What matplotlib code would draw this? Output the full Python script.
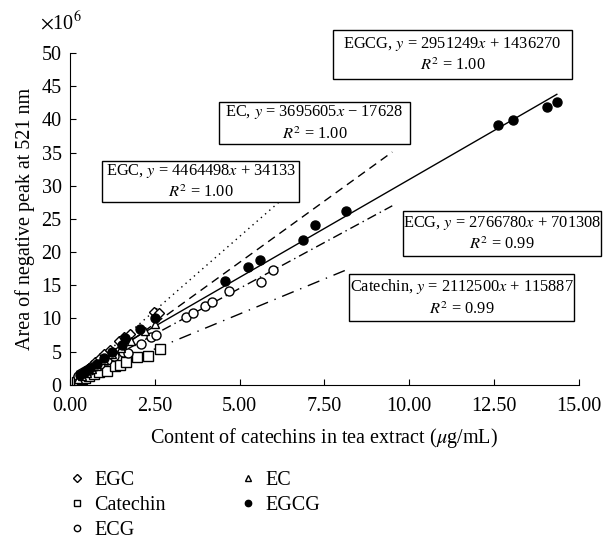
import numpy as np
import matplotlib
matplotlib.use("Agg")
import matplotlib.pyplot as plt
from matplotlib.patches import Rectangle

plt.rcParams['font.family'] = ['Liberation Serif', 'DejaVu Serif']
plt.rcParams['mathtext.fontset'] = 'stix'

# data (x in ug/mL, y in 10^6)
egc_x = [0.22, 0.3, 0.38, 0.45, 0.55, 0.65, 0.75, 0.88, 1.0, 1.18, 1.45, 1.6, 1.76, 2.47, 2.62]
egc_y = [1.0, 1.4, 1.8, 2.1, 2.5, 3.0, 3.4, 4.1, 4.6, 5.3, 6.6, 7.2, 7.6, 11.0, 10.8]
ec_x = [0.25, 0.35, 0.5, 0.65, 0.8, 1.0, 1.25, 1.5, 1.8, 2.2, 2.5]
ec_y = [0.9, 1.3, 1.8, 2.4, 2.9, 3.7, 4.6, 5.5, 6.6, 8.1, 9.1]
ecg_x = [0.25, 0.35, 0.45, 0.6, 0.75, 0.9, 1.1, 1.3, 1.55, 1.7, 2.1, 2.4, 2.53,
         3.41, 3.63, 3.97, 4.2, 4.7, 5.63, 5.98]
ecg_y = [1.3, 1.6, 1.9, 2.3, 2.8, 3.2, 3.8, 4.3, 5.0, 4.8, 6.2, 7.2, 7.5,
         10.2, 10.8, 11.9, 12.5, 14.2, 15.5, 17.3]
cat_x = [0.2, 0.28, 0.35, 0.45, 0.55, 0.7, 0.85, 1.08, 1.32, 1.47, 1.65, 1.98, 2.29, 2.65]
cat_y = [0.5, 0.7, 0.9, 1.1, 1.3, 1.6, 1.9, 2.1, 2.8, 3.0, 3.5, 4.2, 4.4, 5.4]
egcg_x = [0.3, 0.45, 0.6, 0.8, 1.0, 1.25, 1.52, 1.62, 2.06, 2.52, 4.58, 5.24, 5.59,
          6.86, 7.23, 8.15, 12.62, 13.06, 14.06, 14.35]
egcg_y = [1.5, 2.0, 2.6, 3.2, 4.0, 4.9, 6.0, 7.1, 8.4, 10.1, 15.7, 17.8, 18.8,
          21.8, 24.1, 26.2, 39.2, 39.9, 41.9, 42.6]

# fitted lines: slope, intercept, x range
fit_names = ['EGC', 'EC', 'EGCG', 'ECG', 'Catechin']
fit_slope = [4464498, 3695605, 2951249, 2766780, 2112500]
fit_icpt = [34133, -17628, 1436270, 701308, 115887]
fit_r2 = ['1.00', '1.00', '1.00', '0.99', '0.99']
fit_xend = [6.7, 9.5, 14.35, 9.5, 8.1]
fit_style = [(0, (1, 3)), (0, (6, 4)), '-', (0, (7, 3, 1, 3)), (0, (9, 5, 1, 5))]

W, H = 603, 542
fig = plt.figure(figsize=(6.03, 5.42), dpi=100)
ax = fig.add_axes([0.116, 0.290, 0.844, 0.612])

for s, b, xe, ls in zip(fit_slope, fit_icpt, fit_xend, fit_style):
    xx = np.array([0.2, xe])
    ax.plot(xx, (s * xx + b) / 1e6, color='black', lw=1.0, linestyle=ls)

ms = 6.5
h1, = ax.plot(egc_x, egc_y, 'D', ms=5.5, mfc='white', mec='black', mew=1.0, ls='none')
h2, = ax.plot(cat_x, cat_y, 's', ms=6.5, mfc='white', mec='black', mew=1.0, ls='none')
h3, = ax.plot(ecg_x, ecg_y, 'o', ms=ms, mfc='white', mec='black', mew=1.0, ls='none')
h4, = ax.plot(ec_x, ec_y, '^', ms=6, mfc='white', mec='black', mew=1.0, ls='none')
h5, = ax.plot(egcg_x, egcg_y, 'o', ms=ms, mfc='black', mec='black', ls='none')

ax.set_xlim(0, 15)
ax.set_ylim(0, 50)
ax.set_xticks(np.arange(0, 15.01, 2.5))
ax.set_xticklabels(['%.2f' % v for v in np.arange(0, 15.01, 2.5)])
ax.set_yticks(np.arange(0, 51, 5))
ax.spines['top'].set_visible(False)
ax.spines['right'].set_visible(False)
ax.tick_params(direction='in', labelsize=14.5, length=4)
ax.tick_params(axis='x', pad=9)
ax.tick_params(axis='y', pad=6)
ax.set_xlabel(r'Content of catechins in tea extract ($\mu$g/mL)', fontsize=14.5, labelpad=7)
ax.set_ylabel('Area of negative peak at 521 nm', fontsize=14.5, labelpad=5)
fig.text(0.066, 0.945, r'$\times$10$^6$', fontsize=14.5)

# equation boxes: left, right, top, bottom in figure pixels
box_ext = [(102, 299, 161, 202), (219, 410, 102, 144), (333, 572, 30, 79),
           (403, 601, 211, 256), (349, 574, 274, 321)]
for name, s, b, r2, (l, r, t, bt) in zip(fit_names, fit_slope, fit_icpt, fit_r2, box_ext):
    fig.add_artist(Rectangle((l / W, 1 - bt / H), (r - l) / W, (bt - t) / H,
                             transform=fig.transFigure, fc='white', ec='black', lw=1.0))
    sign = '+' if b >= 0 else '\u2212'
    txt = '%s, $y$ = %d$x$ %s %d\n$R^2$ = %s' % (name, s, sign, abs(b), r2)
    fig.text((l + r) / 2 / W, 1 - (t + bt) / 2 / H, txt, ha='center', va='center',
             fontsize=11.8, linespacing=1.4)

fig.legend([h1, h2, h3, h4, h5], ['EGC', 'Catechin', 'ECG', 'EC', 'EGCG'], ncol=2,
           loc='upper left', bbox_to_anchor=(0.081, 0.164), frameon=False,
           fontsize=14.5, markerscale=0.7, handlelength=1.0, handletextpad=0.35,
           columnspacing=3.6, labelspacing=0.28)

fig.savefig('out.png', dpi=100)
